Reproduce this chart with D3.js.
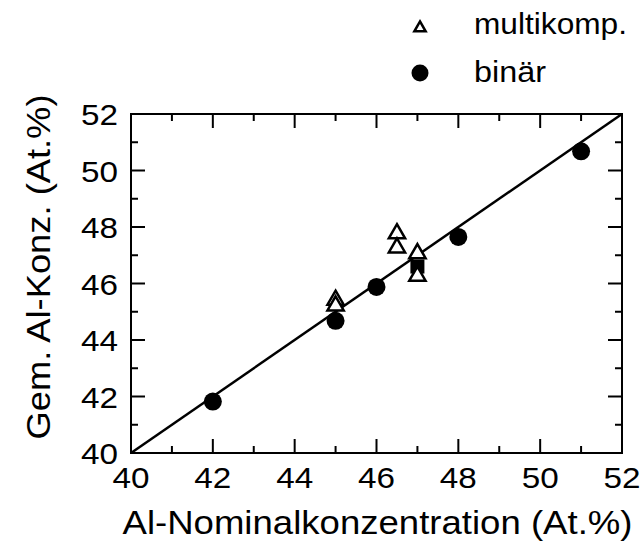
<!DOCTYPE html>
<html><head><meta charset="utf-8">
<script src="https://cdn.jsdelivr.net/npm/d3@7"></script>
<style>body{margin:0;background:#fff}svg{display:block}text{font-family:"Liberation Sans",Arial,sans-serif;fill:#000}</style>
</head><body>
<svg id="c" width="640" height="554"></svg>
<script>
const xDomain = [40, 52];
const yDomain = [40, 52];
const majorTicks = [40, 42, 44, 46, 48, 50, 52];
const minorTicks = [41, 43, 45, 47, 49, 51];
const binaerX = [42, 45, 46, 48, 51];
const binaerY = [41.82, 44.68, 45.88, 47.65, 50.68];
const multiX = [45, 45, 46.5, 46.5, 47, 47];
const multiY = [45.45, 45.25, 47.8, 47.3, 47.1, 46.3];
const squareX = [47];
const squareY = [46.6];
const legendLabels = ["multikomp.", "binär"];
const xTitle = "Al-Nominalkonzentration (At.%)";
const yTitle = "Gem. Al-Konz. (At.%)";

const L = 131, R = 622, T = 114, B = 453;
const svg = d3.select("#c");
const x = d3.scaleLinear().domain(xDomain).range([L, R]);
const y = d3.scaleLinear().domain(yDomain).range([B, T]);

// frame
svg.append("rect").attr("x", L).attr("y", T).attr("width", R - L).attr("height", B - T)
  .attr("fill", "none").attr("stroke", "#000").attr("stroke-width", 2);

// ticks (inward, all four sides)
const drawTicks = (vals, len) => {
  vals.forEach(v => {
    svg.append("line").attr("x1", x(v)).attr("x2", x(v)).attr("y1", B).attr("y2", B - len).attr("stroke", "#000").attr("stroke-width", 2);
    svg.append("line").attr("x1", x(v)).attr("x2", x(v)).attr("y1", T).attr("y2", T + len).attr("stroke", "#000").attr("stroke-width", 2);
    svg.append("line").attr("y1", y(v)).attr("y2", y(v)).attr("x1", L).attr("x2", L + len).attr("stroke", "#000").attr("stroke-width", 2);
    svg.append("line").attr("y1", y(v)).attr("y2", y(v)).attr("x1", R).attr("x2", R - len).attr("stroke", "#000").attr("stroke-width", 2);
  });
};
drawTicks(majorTicks.slice(1, -1), 14);
drawTicks(minorTicks, 7);

// tick labels
svg.selectAll(".xl").data(majorTicks).enter().append("text")
  .attr("x", d => x(d)).attr("y", 488).attr("text-anchor", "middle")
  .attr("font-size", 30).attr("textLength", 37).attr("lengthAdjust", "spacingAndGlyphs").text(d => d);
svg.selectAll(".yl").data(majorTicks).enter().append("text")
  .attr("x", 118).attr("y", d => y(d) + 11).attr("text-anchor", "end")
  .attr("font-size", 30).attr("textLength", 37).attr("lengthAdjust", "spacingAndGlyphs").text(d => d);

// titles
svg.append("text").attr("x", 377.5).attr("y", 534).attr("text-anchor", "middle")
  .attr("font-size", 33).attr("textLength", 510).attr("lengthAdjust", "spacingAndGlyphs").text(xTitle);
svg.append("text").attr("transform", "translate(50,267) rotate(-90)").attr("text-anchor", "middle")
  .attr("font-size", 33).attr("textLength", 345).attr("lengthAdjust", "spacingAndGlyphs").text(yTitle);

// diagonal line y = x
svg.append("line").attr("x1", x(40)).attr("y1", y(40)).attr("x2", x(52)).attr("y2", y(52))
  .attr("stroke", "#000").attr("stroke-width", 2.5);

// markers
const tri = d3.symbol().type(d3.symbolTriangle).size(115);
svg.selectAll(".sq").data(squareX).enter().append("rect")
  .attr("x", d => x(d) - 7).attr("y", (d, i) => y(squareY[i]) - 7)
  .attr("width", 14).attr("height", 14).attr("fill", "#000");
svg.selectAll(".c").data(binaerX).enter().append("circle")
  .attr("cx", d => x(d)).attr("cy", (d, i) => y(binaerY[i])).attr("r", 9).attr("fill", "#000");
svg.selectAll(".t").data(multiX).enter().append("path")
  .attr("d", tri).attr("transform", (d, i) => `translate(${x(d)},${y(multiY[i]) + 1})`)
  .attr("fill", "#fff").attr("stroke", "#000").attr("stroke-width", 2.5);

// legend
svg.append("path").attr("d", d3.symbol().type(d3.symbolTriangle).size(55))
  .attr("transform", "translate(420,28)").attr("fill", "#fff").attr("stroke", "#000").attr("stroke-width", 2.5);
svg.append("circle").attr("cx", 420).attr("cy", 73).attr("r", 8.5).attr("fill", "#000");
svg.append("text").attr("x", 474).attr("y", 34).attr("font-size", 30)
  .attr("textLength", 153).attr("lengthAdjust", "spacingAndGlyphs").text(legendLabels[0]);
svg.append("text").attr("x", 474).attr("y", 82).attr("font-size", 30)
  .attr("textLength", 72).attr("lengthAdjust", "spacingAndGlyphs").text(legendLabels[1]);
</script>
</body></html>
